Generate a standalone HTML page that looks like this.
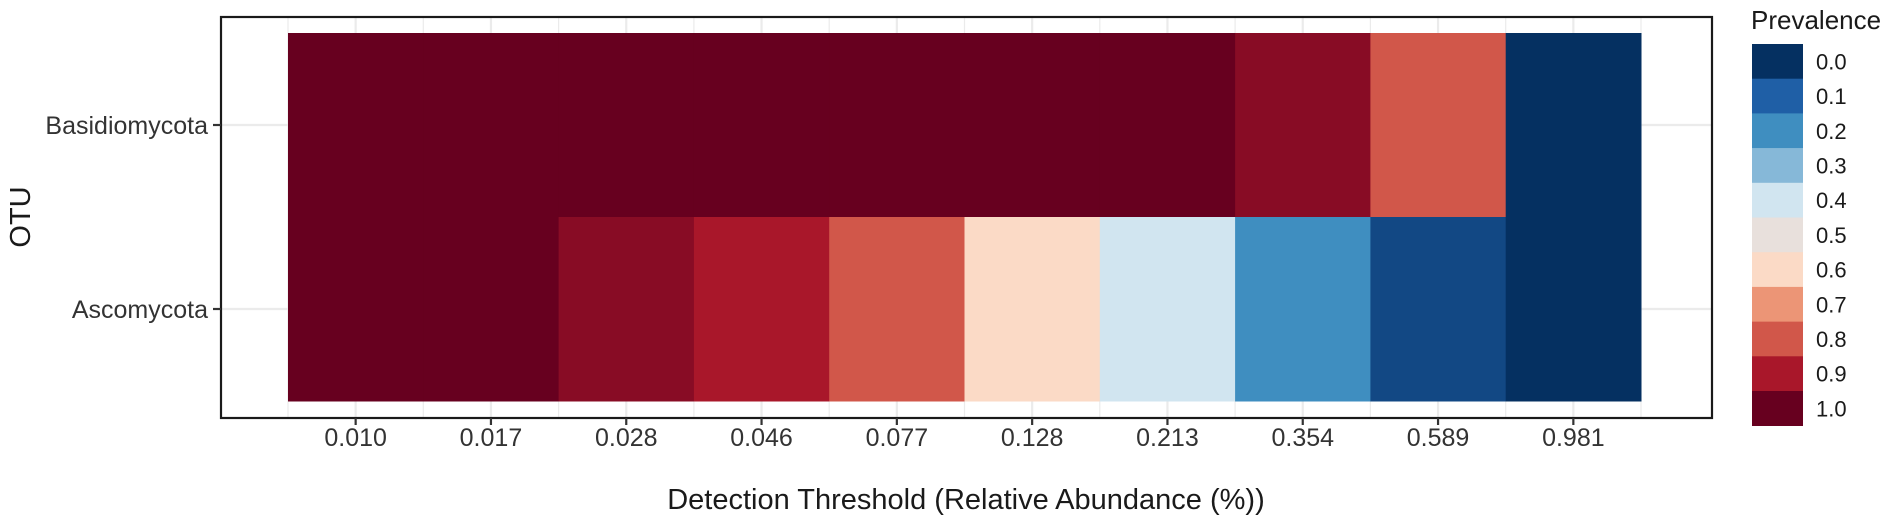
<!DOCTYPE html>
<html><head><meta charset="utf-8"><style>
html,body{margin:0;padding:0;background:#fff;}
svg{display:block;font-family:"Liberation Sans",Arial,sans-serif;}
</style></head><body>
<svg id="chart" width="1901" height="527" viewBox="0 0 1901 527" xmlns="http://www.w3.org/2000/svg">
<rect x="0" y="0" width="1901" height="527" fill="#fff"/>
<g id="grid"></g>
<g id="tiles"></g>
<rect x="221" y="17" width="1491" height="401" fill="none" stroke="#1a1a1a" stroke-width="2.2"/>
<g id="axes"></g>
<text x="966" y="509" font-size="29" fill="#1a1a1a" text-anchor="middle">Detection Threshold (Relative Abundance (%))</text>
<text transform="translate(30,217) rotate(-90)" font-size="29" fill="#1a1a1a" text-anchor="middle">OTU</text>
<g id="legend"></g>
</svg>
<script>
const thresholds = ["0.010","0.017","0.028","0.046","0.077","0.128","0.213","0.354","0.589","0.981"];
const otus = ["Basidiomycota","Ascomycota"];
const prevBasidiomycota = [1,1,1,1,1,1,1,0.95,0.8,0];
const prevAscomycota = [1,1,0.95,0.9,0.8,0.6,0.4,0.2,0.05,0];
const legendBreaks = [0.0,0.1,0.2,0.3,0.4,0.5,0.6,0.7,0.8,0.9,1.0];
const palette = ["#053061","#1f5fa6","#3f8ec0","#86b8d8","#d1e5f0","#e8e0dc","#fbdac6","#ec9576","#d1574a","#a9172a","#67001f"];

const NS="http://www.w3.org/2000/svg";
function mk(tag,attrs,parent){const e=document.createElementNS(NS,tag);for(const k in attrs)e.setAttribute(k,attrs[k]);parent.appendChild(e);return e;}
function hex(c){return [1,3,5].map(i=>parseInt(c.substr(i,2),16));}
function color(v){
  v=Math.max(0,Math.min(1,v));const p=v*10;const i=Math.min(9,Math.floor(p));const t=p-i;
  const a=hex(palette[i]),b=hex(palette[i+1]);
  return "rgb("+a.map((x,k)=>Math.round(x+(b[k]-x)*t)).join(",")+")";
}
const colW=135.3, x0=288;
function xScale(i){return x0+colW*i;}
const rowCenters0=125, rowStep=184;
function yScale(j){return rowCenters0+rowStep*j;}

const grid=document.getElementById('grid');
for(let i=0;i<=thresholds.length;i++){
  const l=mk('line',{x1:xScale(i),x2:xScale(i),y1:17,y2:418,stroke:'#ebebeb','stroke-width':1.2},grid);
  
  
}
thresholds.forEach((t,i)=>{
  const cx=xScale(i)+colW/2;
  const l=mk('line',{x1:cx,x2:cx,y1:17,y2:418,stroke:'#ebebeb','stroke-width':2.2},grid);
  
  
});
otus.forEach((o,j)=>{
  const l=mk('line',{x1:221,x2:1712,y1:yScale(j),y2:yScale(j),stroke:'#ebebeb','stroke-width':2.2},grid);
  
  
});

const tiles=document.getElementById('tiles');
const series=[prevBasidiomycota,prevAscomycota];
series.forEach((vals,j)=>{
  vals.forEach((v,i)=>{
    const r=mk('rect',{x:xScale(i),y:yScale(j)-rowStep/2,width:colW+0.5,height:rowStep+0.5,fill:color(v)},tiles);
    
    
  });
});

const axes=document.getElementById('axes');
thresholds.forEach((t,i)=>{
  const cx=xScale(i)+colW/2;
  const tk=mk('line',{x1:cx,x2:cx,y1:418,y2:425,stroke:'#333','stroke-width':2.2},axes);
  
  
  const tx=mk('text',{x:cx,y:446,'font-size':25,fill:'#333','text-anchor':'middle'},axes);
  tx.textContent=t;
  
  
});
otus.forEach((o,j)=>{
  const cy=yScale(j);
  const tk=mk('line',{x1:213,x2:221,y1:cy,y2:cy,stroke:'#333','stroke-width':2.2},axes);
  
  
  const tx=mk('text',{x:208,y:cy+9,'font-size':25,fill:'#333','text-anchor':'end'},axes);
  tx.textContent=o;
  
  
});

const lg=document.getElementById('legend');
const lt=mk('text',{x:1751,y:29,'font-size':26,fill:'#1a1a1a'},lg);
lt.textContent='Prevalence';


const sh=34.7, sy=44;
legendBreaks.forEach((b,k)=>{
  const r=mk('rect',{x:1752,y:sy+sh*k,width:51,height:sh+0.3,fill:color(b)},lg);
  
  
  const t=mk('text',{x:1816,y:sy+sh*k+sh/2+8,'font-size':22,fill:'#1a1a1a'},lg);
  t.textContent=b.toFixed(1);
  
  
});
</script>
</body></html>
